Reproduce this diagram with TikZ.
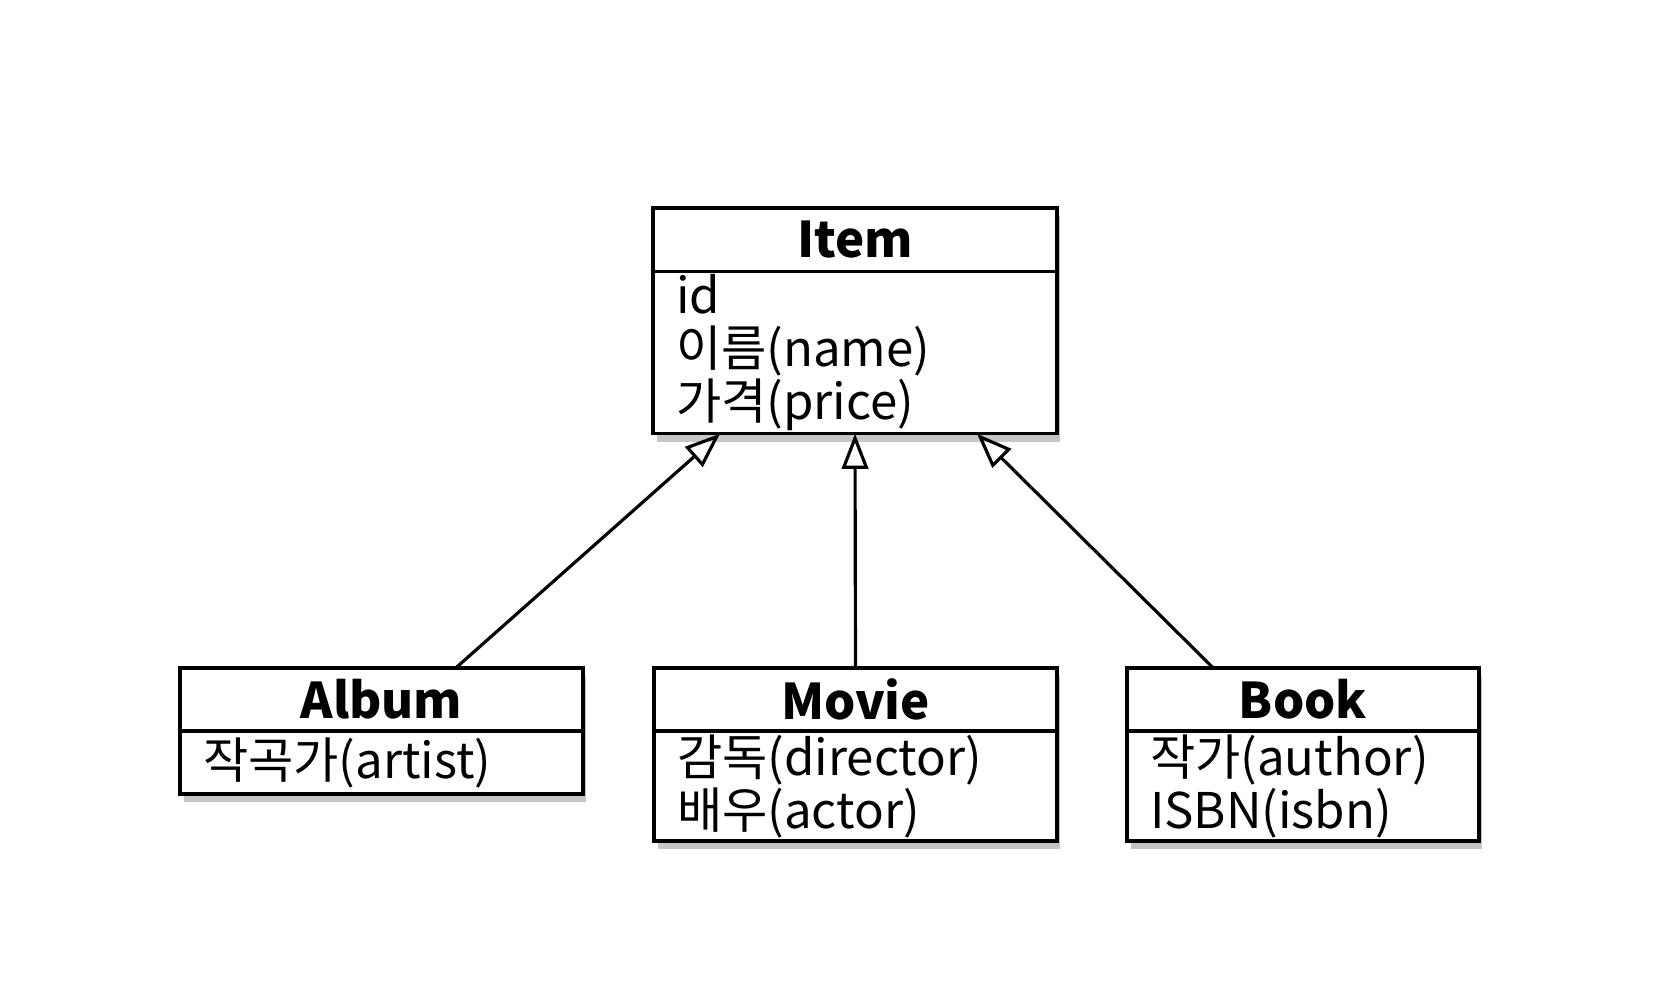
\documentclass[tikz,border=0pt]{standalone}
\usepackage{fontspec}
\setmainfont{Noto Sans CJK KR}
\usetikzlibrary{positioning}
\usetikzlibrary{shadows}
\usetikzlibrary{arrows.meta}

\begin{document}
\begin{tikzpicture}
  [
    x=0.02cm, y=-0.02cm,
    box/.style={
       draw=black,
       line width=2pt,
       fill=white,
       outer sep=0pt,
       drop shadow={shadow xshift=2pt, shadow yshift=-4.5pt, opacity=0.45}
    },
    cls/.style={
       box,
       minimum height=1.27cm,
       inner sep=0pt,
       font=\fontsize{28}{30}\selectfont\bfseries
    },
    attrs/.style={
       box,
       inner xsep=0.46cm,
       inner ysep=0pt,
       align=left,
       font=\fontsize{28}{30}\selectfont
    },
    isa/.style={
       draw=black,
       line width=1.8pt,
       -{Triangle[open, length=20pt, width=15pt]}
    }
  ]
  \useasboundingbox (0,0) rectangle (1658,982);

  % super class
  \node (itemT) at ( 855,240) [cls, minimum width=8.08cm] {Item};
  \node (itemA) [attrs, below=0pt of itemT, text width=7.16cm, minimum height=3.24cm]
        {id\\이름(name)\\가격(price)};

  % sub classes
  \node (albumT) at ( 381.5,699.5) [cls, minimum width=8.06cm] {Album};
  \node (albumA) [attrs, below=0pt of albumT, text width=7.14cm, minimum height=1.26cm]
        {작곡가(artist)};

  \node (movieT) at ( 855.5,699.5) [cls, minimum width=8.06cm] {Movie};
  \node (movieA) [attrs, below=0pt of movieT, text width=7.14cm, minimum height=2.2cm]
        {감독(director)\\배우(actor)};

  \node (bookT)  at (1303,699.5)   [cls, minimum width=7.04cm] {Book};
  \node (bookA)  [attrs, below=0pt of bookT, text width=6.12cm, minimum height=2.2cm]
        {작가(author)\\ISBN(isbn)};

  \draw [isa] ([xshift=1.49cm]albumT.north) -- ([xshift=-2.7cm]itemA.south);
  \draw [isa] (movieT.north) -- (itemA.south);
  \draw [isa] ([xshift=-1.8cm]bookT.north) -- ([xshift=2.44cm]itemA.south);
\end{tikzpicture}
\end{document}
